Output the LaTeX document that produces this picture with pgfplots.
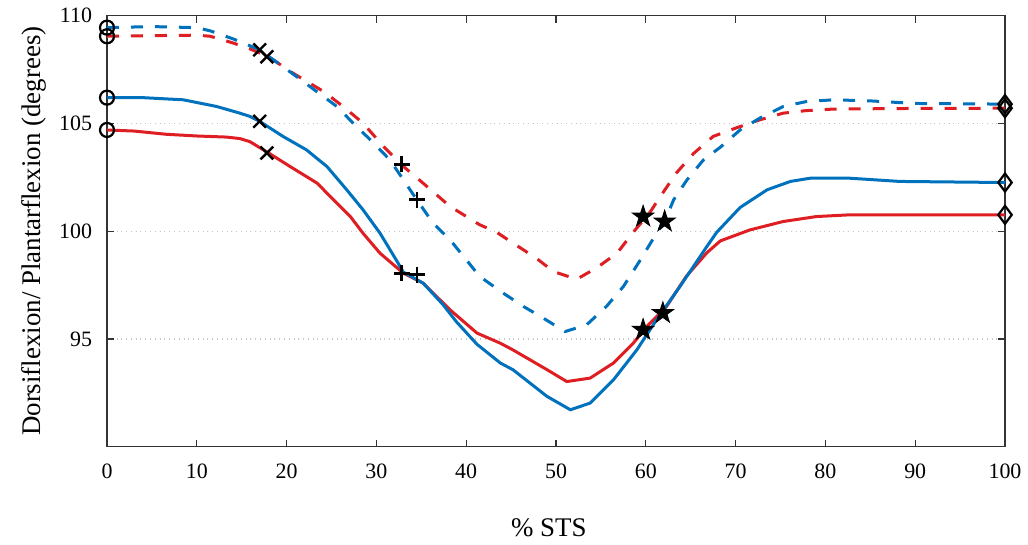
\documentclass[border=0pt]{standalone}
\usepackage{fontspec}
\setmainfont{LiberationSerif}[Extension=.ttf, UprightFont=*-Regular, BoldFont=*-Bold, ItalicFont=*-Italic, BoldItalicFont=*-BoldItalic]
\usepackage{pgfplots}
\pgfplotsset{compat=1.18}
\definecolor{mblue}{RGB}{0,114,189}
\definecolor{mred}{RGB}{222,30,35}
\pgfdeclareplotmark{pentagram}{%
  \pgfpathmoveto{\pgfpointpolar{90}{\pgfplotmarksize}}%
  \pgfpathlineto{\pgfpointpolar{126}{0.382\pgfplotmarksize}}%
  \pgfpathlineto{\pgfpointpolar{162}{\pgfplotmarksize}}%
  \pgfpathlineto{\pgfpointpolar{198}{0.382\pgfplotmarksize}}%
  \pgfpathlineto{\pgfpointpolar{234}{\pgfplotmarksize}}%
  \pgfpathlineto{\pgfpointpolar{270}{0.382\pgfplotmarksize}}%
  \pgfpathlineto{\pgfpointpolar{306}{\pgfplotmarksize}}%
  \pgfpathlineto{\pgfpointpolar{342}{0.382\pgfplotmarksize}}%
  \pgfpathlineto{\pgfpointpolar{18}{\pgfplotmarksize}}%
  \pgfpathlineto{\pgfpointpolar{54}{0.382\pgfplotmarksize}}%
  \pgfpathclose
  \pgfusepathqfillstroke}
\begin{document}
\begin{tikzpicture}
\begin{axis}[
  at={(0,0)}, anchor=south west,
  scale only axis, width=449bp, height=215.4bp,
  xmin=0, xmax=100, ymin=90, ymax=110,
  xtick={0,10,...,100}, ytick={95,100,105,110},
  tick align=inside, major tick length=3.5bp,
  ymajorgrids, grid style={dotted, gray!45, line width=0.6bp},
  axis line style={black!80, line width=0.6bp},
  every tick/.style={black!80, line width=0.6bp},
  /pgf/number format/assume math mode=true,
  ticklabel style={font=\fontsize{11}{13}\selectfont},
  xticklabel style={yshift=-5bp},
  yticklabel style={xshift=-4bp},
  xlabel={\% STS},
  ylabel={Dorsiflexion/ Plantarflexion (degrees)},
  label style={font=\fontsize{13.5}{15}\selectfont},
  xlabel style={at={(axis description cs:0.492,-0.209)}, anchor=base},
  ylabel style={at={(axis description cs:-0.06,0.5)}, anchor=south},
  clip=false,
]
% red dashed
\addplot[mred, line width=1.5bp, dash pattern=on 6bp off 6bp] coordinates {
(0,109.05)(5,109.08)(10,109.1)(11.5,109.05)(14.1,108.73)(16,108.45)(18,108.1)
(20.7,107.34)(24.1,106.49)(26.3,105.79)(28.5,105.02)(30.8,103.93)(32.8,103.08)
(35.2,102.23)(38.2,101.15)(41.5,100.3)(43.4,99.95)(45.2,99.45)(47.8,98.75)
(49.7,98.13)(52.3,97.77)(54.5,98.29)(56.8,98.98)(58.6,99.95)(60.5,100.9)
(61.6,101.6)(63.4,102.7)(65.3,103.6)(67.5,104.4)(70.1,104.8)(72.7,105.17)
(75.3,105.48)(77.9,105.6)(80.9,105.67)(90,105.7)(100,105.71)};
% blue dashed
\addplot[mblue, line width=1.5bp, dash pattern=on 6bp off 6bp] coordinates {
(0,109.45)(5,109.5)(10,109.45)(11.5,109.3)(14.1,108.92)(17,108.42)(21.1,107.18)
(25.6,105.79)(27.4,105.02)(29.7,104.09)(31.5,103.31)(33,102.39)(34.5,101.46)
(36.3,100.38)(38.2,99.6)(39.7,98.83)(41.5,97.9)(44.1,97.13)(46.4,96.5)
(48.6,95.96)(51,95.34)(53.4,95.65)(55.6,96.5)(57.5,97.43)(59.4,98.67)
(61.2,99.91)(62.1,100.45)(63.1,101.46)(64.6,102.39)(66.4,103.3)(68.3,103.9)
(70.5,104.7)(72.7,105.25)(75.3,105.79)(77.9,106.02)(80.9,106.1)(85,106.05)
(90,105.93)(100,105.9)};
% red solid
\addplot[mred, line width=1.5bp] coordinates {
(0,104.7)(3,104.65)(6.6,104.5)(10,104.42)(13.3,104.37)(14.8,104.3)(15.9,104.16)
(18,103.63)(20.4,103.0)(23.4,102.23)(25.6,101.3)(27.1,100.68)(28.5,99.91)
(30.4,98.98)(33,98.05)(35.2,97.59)(38.2,96.35)(41.2,95.27)(43.8,94.8)
(45.2,94.49)(47.1,94.03)(49,93.57)(51.2,93.02)(53.8,93.18)(56.4,93.88)
(58.6,94.8)(60.1,95.57)(62.3,96.5)(64.5,97.9)(66.8,99.0)(68.3,99.55)
(71.6,100.06)(75.3,100.45)(79,100.68)(82.7,100.76)(90,100.76)(100,100.76)};
% blue solid
\addplot[mblue, line width=1.5bp] coordinates {
(0,106.2)(4,106.2)(8.5,106.1)(12.2,105.79)(14.8,105.48)(15.9,105.33)(17,105.1)
(19.6,104.4)(22.2,103.78)(24.5,103.0)(26.7,101.92)(28.5,101.0)(30.4,99.91)
(32.3,98.6)(33,98.1)(35.2,97.59)(37.4,96.6)(38.9,95.8)(41.2,94.75)
(43.8,93.88)(45.2,93.57)(49,92.33)(51.6,91.71)(53.8,92.02)(56.4,93.1)
(59,94.49)(61.2,95.89)(63.8,97.43)(66.8,99.29)(67.9,99.95)(70.5,101.1)
(73.5,101.92)(76.1,102.31)(78.3,102.46)(82.7,102.46)(88.3,102.31)(100,102.26)};
% markers
\addplot[only marks, mark=o, mark size=3.5bp, black, line width=1.1bp] coordinates {
(0,109.45)(0,109.05)(0,106.2)(0,104.7)};
\addplot[only marks, mark=x, mark size=4.5bp, black, line width=1.2bp] coordinates {
(17,108.42)(17.8,108.1)(17,105.1)(17.8,103.63)};
\addplot[only marks, mark=+, mark size=4bp, black, line width=1.3bp] coordinates {
(32.8,103.1)(34.5,101.46)(32.8,98.05)(34.5,97.98)};
\addplot[only marks, mark=pentagram, mark size=5.5bp, black, fill=black, line width=0.5bp] coordinates {
(59.7,100.68)(62.1,100.45)(59.7,95.42)(61.9,96.2)};
\addplot[only marks, mark=diamond, mark size=4.5bp, black, line width=1.1bp] coordinates {
(100,105.9)(100,105.71)(100,102.26)(100,100.76)};
\end{axis}
\pgfresetboundingbox
\path[use as bounding box] (-53.5bp,-49.2bp) rectangle (460.5bp,223.3bp);
\end{tikzpicture}
\end{document}
